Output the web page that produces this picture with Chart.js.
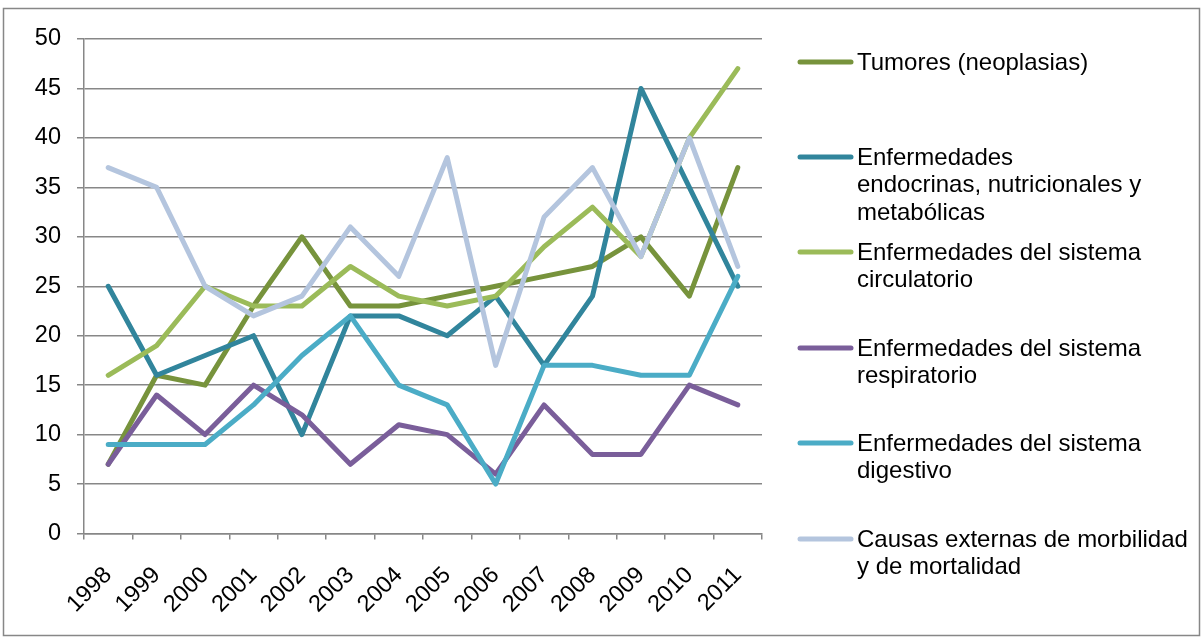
<!DOCTYPE html>
<html>
<head>
<meta charset="utf-8">
<script src="https://cdn.jsdelivr.net/npm/chart.js@4.4.1/dist/chart.umd.min.js"></script>
<style>
  html, body { margin: 0; padding: 0; background: #ffffff; }
  #wrap { position: relative; width: 1204px; height: 639px; }
</style>
</head>
<body>
<div id="wrap"><canvas id="c" width="1204" height="639"></canvas></div>
<script>
const years = ['1998','1999','2000','2001','2002','2003','2004','2005','2006','2007','2008','2009','2010','2011'];
const tumores      = [7, 16, 15, 23, 30, 23, 23, 24, 25, 26, 27, 30, 24, 37];
const endocrinas   = [25, 16, 18, 20, 10, 22, 22, 20, 24, 17, 24, 45, 35, 25];
const circulatorio = [16, 19, 25, 23, 23, 27, 24, 23, 24, 29, 33, 28, 40, 47];
const respiratorio = [7, 14, 10, 15, 12, 7, 11, 10, 6, 13, 8, 8, 15, 13];
const digestivo    = [9, 9, 9, 13, 18, 22, 15, 13, 5, 17, 17, 16, 16, 26];
const externas     = [37, 35, 25, 22, 24, 31, 26, 38, 17, 32, 37, 28, 40, 27];
const seriesLabels = [
  ['Tumores (neoplasias)'],
  ['Enfermedades', 'endocrinas, nutricionales y', 'metabólicas'],
  ['Enfermedades del sistema', 'circulatorio'],
  ['Enfermedades del sistema', 'respiratorio'],
  ['Enfermedades del sistema', 'digestivo'],
  ['Causas externas de morbilidad', 'y de mortalidad']
];
const yMin = 0, yMax = 50, yStep = 5;

const seriesData = [tumores, endocrinas, circulatorio, respiratorio, digestivo, externas];
const colors = ['#77933C', '#31859C', '#9BBB59', '#7A5E9A', '#4BACC6', '#B4C5DE'];
const FONT = '"Liberation Sans", Arial, sans-serif';
const FSIZE = 23.5;
const LEGEND_FSIZE = 24;
const GRID = '#878787';

const datasets = seriesData.map((d, i) => ({
  label: seriesLabels[i].join(' '),
  data: d,
  borderColor: colors[i],
  backgroundColor: colors[i],
  borderWidth: 5,
  pointRadius: 0,
  tension: 0,
  borderCapStyle: 'round',
  borderJoinStyle: 'round',
  order: seriesData.length - i
}));

const frameAndLegend = {
  id: 'frameAndLegend',
  afterDraw(chart) {
    const ctx = chart.ctx;
    ctx.save();
    ctx.strokeStyle = GRID;
    ctx.lineWidth = 1.5;
    ctx.strokeRect(3.5, 8.5, 1196, 627);
    const entryY = [62, 157, 252, 348, 443, 539];
    const lineH = 27.8;
    ctx.font = LEGEND_FSIZE + 'px ' + FONT;
    ctx.textBaseline = 'middle';
    ctx.textAlign = 'left';
    chart.data.datasets.forEach((ds, i) => {
      const y = entryY[i];
      ctx.strokeStyle = ds.borderColor;
      ctx.lineWidth = 5;
      ctx.lineCap = 'round';
      ctx.beginPath();
      ctx.moveTo(800, y);
      ctx.lineTo(851, y);
      ctx.stroke();
      ctx.fillStyle = '#000000';
      seriesLabels[i].forEach((t, k) => ctx.fillText(t, 857, y + 1 + k * lineH));
    });
    ctx.restore();
  }
};

new Chart(document.getElementById('c'), {
  type: 'line',
  data: { labels: years, datasets },
  options: {
    responsive: false,
    animation: false,
    layout: { padding: { left: 0, top: 39, right: 442, bottom: 0 } },
    plugins: { legend: { display: false }, tooltip: { enabled: false } },
    scales: {
      x: {
        offset: true,
        afterFit: s => { s.height = 105.5; },
        grid: { display: true, drawOnChartArea: false, offset: true, tickLength: 6, color: GRID, lineWidth: 1.5 },
        border: { display: true, color: GRID, width: 1.5 },
        ticks: { color: '#000', font: { family: FONT, size: FSIZE }, minRotation: 45, maxRotation: 45, padding: 22, autoSkip: false }
      },
      y: {
        min: yMin, max: yMax,
        afterFit: s => { s.width = 84; },
        grid: { color: GRID, lineWidth: 1.5, tickLength: 7, tickColor: GRID },
        border: { display: true, color: GRID, width: 1.5 },
        ticks: { stepSize: yStep, color: '#000', font: { family: FONT, size: FSIZE }, padding: 16 }
      }
    }
  },
  plugins: [frameAndLegend]
});
</script>
</body>
</html>
